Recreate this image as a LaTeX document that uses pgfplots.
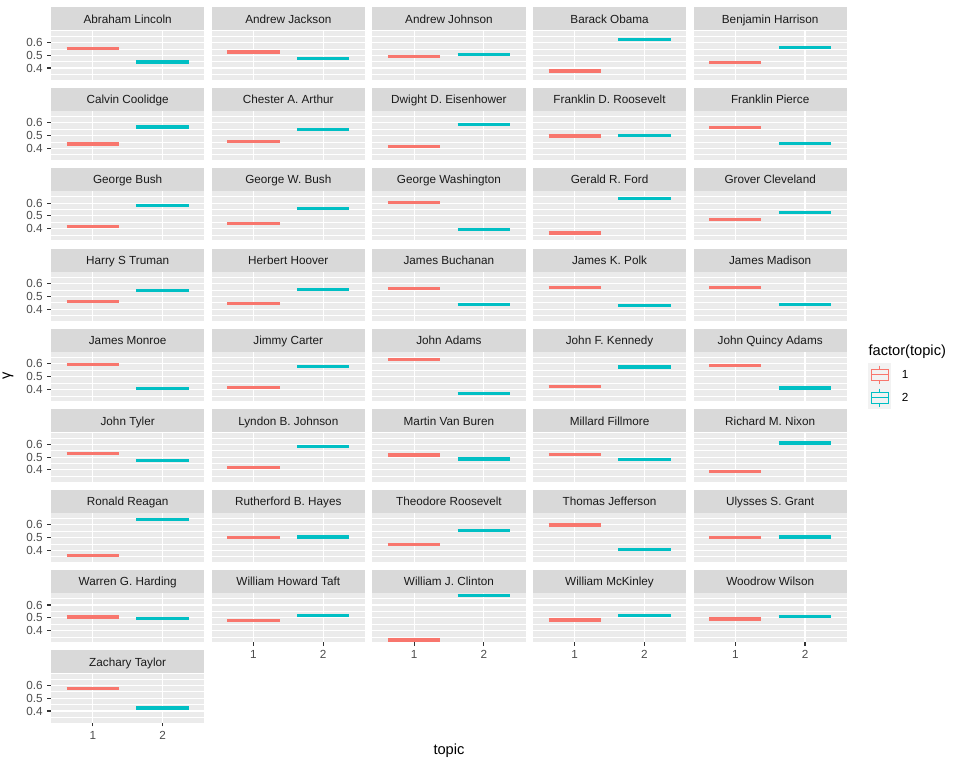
\documentclass[border=0pt]{standalone}
\usepackage{pgfplots}
\pgfplotsset{compat=1.18}
\usepackage{fontspec}
\setmainfont{Liberation Sans}
\definecolor{panelbg}{HTML}{EBEBEB}
\definecolor{stripbg}{HTML}{D9D9D9}
\definecolor{striptext}{HTML}{1A1A1A}
\definecolor{ticktext}{HTML}{4D4D4D}
\definecolor{tickcol}{HTML}{333333}
\definecolor{keybg}{HTML}{F2F2F2}
\definecolor{tone}{HTML}{F8766D}
\definecolor{ttwo}{HTML}{00BFC4}
\newcommand{\smallfont}{\fontsize{8.8}{10}\selectfont}
\newcommand{\bigfont}{\fontsize{11}{13}\selectfont}
\tikzset{strip/.style={anchor=south, fill=stripbg, minimum width=115pt, minimum height=17.25pt, inner sep=0pt, text height=8pt, text depth=1.6pt, text=striptext, font=\smallfont}}
\pgfplotsset{
  panel/.style={anchor=north west, scale only axis, width=115pt, height=36.75pt,
    xmin=0.4, xmax=2.6, ymin=0.3086, ymax=0.6914,
    xtick={1,2}, ytick={0.4,0.5,0.6}, minor ytick={0.35,0.45,0.55,0.65},
    xticklabels={}, yticklabels={},
    xmajorgrids, ymajorgrids, yminorgrids,
    major grid style={white, line width=0.8pt},
    minor grid style={white, line width=0.4pt},
    axis background/.style={fill=panelbg},
    axis line style={draw=none},
    tick pos=left,
    tick align=outside, major tick length=2.75pt, minor tick length=0pt,
    xtick style={draw=none}, ytick style={draw=none},
    tick label style={font=\smallfont, text=ticktext},
  },
  yaxis/.style={yticklabels={0.4,0.5,0.6}, ytick style={draw=tickcol, line width=0.8pt}},
  xaxis/.style={xticklabels={1,2}, xtick style={draw=tickcol, line width=0.8pt}},
}
% #1 options, #2 col, #3 row, #4 name, #5 topic 1, #6 topic 2
\newcommand{\panel}[6][]{%
  \begin{axis}[panel, at={({38.25pt+#2*120.47pt},{-23pt-#3*60.28pt})}, #1,
      extra description/.code={\node[strip] at (0.5,1) {#4};}]
    \addplot[tone, line width=2.4pt] coordinates {(0.625,#5) (1.375,#5)};
    \addplot[ttwo, line width=2.4pt] coordinates {(1.625,#6) (2.375,#6)};
  \end{axis}}
\begin{document}
\begin{tikzpicture}
\path[use as bounding box] (0,0) rectangle (720pt,-576pt);
% row 1
\panel[yaxis]{0}{0}{Abraham Lincoln}{0.553}{0.447}
\panel{1}{0}{Andrew Jackson}{0.524}{0.476}
\panel{2}{0}{Andrew Johnson}{0.492}{0.508}
\panel{3}{0}{Barack Obama}{0.376}{0.624}
\panel{4}{0}{Benjamin Harrison}{0.440}{0.560}
% row 2
\panel[yaxis]{0}{1}{Calvin Coolidge}{0.434}{0.566}
\panel{1}{1}{Chester A. Arthur}{0.454}{0.546}
\panel{2}{1}{Dwight D. Eisenhower}{0.414}{0.586}
\panel{3}{1}{Franklin D. Roosevelt}{0.497}{0.503}
\panel{4}{1}{Franklin Pierce}{0.561}{0.439}
% row 3
\panel[yaxis]{0}{2}{George Bush}{0.420}{0.580}
\panel{1}{2}{George W. Bush}{0.440}{0.560}
\panel{2}{2}{George Washington}{0.607}{0.393}
\panel{3}{2}{Gerald R. Ford}{0.367}{0.633}
\panel{4}{2}{Grover Cleveland}{0.475}{0.525}
% row 4
\panel[yaxis]{0}{3}{Harry S Truman}{0.457}{0.543}
\panel{1}{3}{Herbert Hoover}{0.445}{0.555}
\panel{2}{3}{James Buchanan}{0.563}{0.437}
\panel{3}{3}{James K. Polk}{0.571}{0.429}
\panel{4}{3}{James Madison}{0.567}{0.433}
% row 5
\panel[yaxis]{0}{4}{James Monroe}{0.595}{0.405}
\panel{1}{4}{Jimmy Carter}{0.418}{0.582}
\panel{2}{4}{John Adams}{0.632}{0.368}
\panel{3}{4}{John F. Kennedy}{0.424}{0.576}
\panel{4}{4}{John Quincy Adams}{0.588}{0.412}
% row 6
\panel[yaxis]{0}{5}{John Tyler}{0.530}{0.470}
\panel{1}{5}{Lyndon B. Johnson}{0.418}{0.582}
\panel{2}{5}{Martin Van Buren}{0.516}{0.484}
\panel{3}{5}{Millard Fillmore}{0.518}{0.482}
\panel{4}{5}{Richard M. Nixon}{0.390}{0.610}
% row 7
\panel[yaxis]{0}{6}{Ronald Reagan}{0.358}{0.642}
\panel{1}{6}{Rutherford B. Hayes}{0.497}{0.503}
\panel{2}{6}{Theodore Roosevelt}{0.447}{0.553}
\panel{3}{6}{Thomas Jefferson}{0.597}{0.403}
\panel{4}{6}{Ulysses S. Grant}{0.497}{0.503}
% row 8
\panel[yaxis]{0}{7}{Warren G. Harding}{0.506}{0.494}
\panel[xaxis]{1}{7}{William Howard Taft}{0.481}{0.519}
\panel[xaxis]{2}{7}{William J. Clinton}{0.326}{0.674}
\panel[xaxis]{3}{7}{William McKinley}{0.483}{0.517}
\panel[xaxis]{4}{7}{Woodrow Wilson}{0.491}{0.509}
% row 9
\panel[yaxis,xaxis]{0}{8}{Zachary Taylor}{0.577}{0.423}
% axis titles
\node[font=\bigfont] at (336.75pt,-563pt) {topic};
\node[font=\bigfont, rotate=90] at (6pt,-282pt) {γ};
% legend
\node[font=\bigfont, anchor=west, inner sep=0pt] at (651.2pt,-263.8pt) {factor(topic)};
\fill[keybg] (651.2pt,-272.5pt) rectangle (668.5pt,-307.0pt);
\foreach \c/\y/\l in {tone/-272.5/1, ttwo/-289.75/2}{
  \begin{scope}[shift={(651.2pt,\y pt)}, x=17.28pt, y=-17.28pt]
    \draw[\c, line width=0.8pt] (0.5,0.1) -- (0.5,0.25) (0.5,0.75) -- (0.5,0.9);
    \draw[\c, line width=0.8pt] (0.125,0.25) rectangle (0.875,0.75);
    \draw[\c, line width=0.8pt] (0.125,0.5) -- (0.875,0.5);
    \node[font=\smallfont, anchor=west, inner sep=0pt] at (1.45,0.5) {\l};
  \end{scope}
}
\end{tikzpicture}
\end{document}
